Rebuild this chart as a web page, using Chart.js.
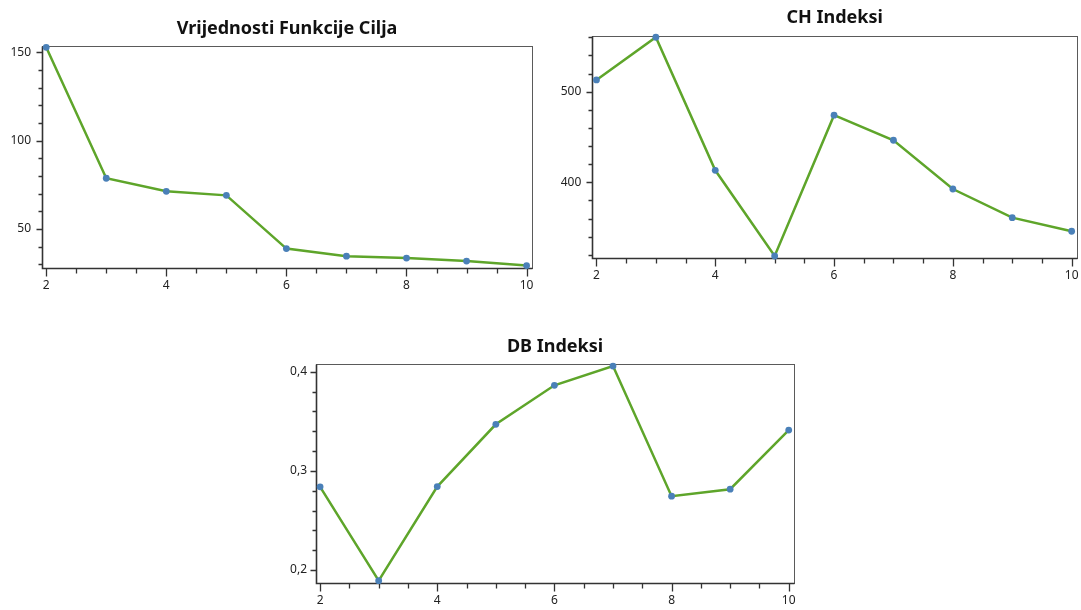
<!DOCTYPE html>
<html>
<head>
<meta charset="utf-8">
<script src="https://cdn.jsdelivr.net/npm/chart.js@4.4.0/dist/chart.umd.min.js"></script>
<style>
  html, body { margin: 0; padding: 0; background: #fff; width: 1081px; height: 610px; overflow: hidden; }
  canvas { position: absolute; }
</style>
</head>
<body>
<canvas id="chart-fc" width="545" height="300" style="left:0px;top:0px"></canvas>
<canvas id="chart-ch" width="531" height="300" style="left:550px;top:0px"></canvas>
<canvas id="chart-db" width="540" height="280" style="left:270px;top:330px"></canvas>
<script>
// broj klastera (k)
var brojKlastera = [2, 3, 4, 5, 6, 7, 8, 9, 10];
var xOznake      = [2, 4, 6, 8, 10];

// vrijednosti ocitane sa slike
var funkcijaCilja = [152.8, 78.7, 71.3, 69.0, 38.9, 34.6, 33.5, 31.8, 29.3];
var chIndeksi     = [512.9, 560.0, 413.2, 318.7, 474.0, 446.4, 392.6, 361.0, 346.0];
var dbIndeksi     = [0.2839, 0.1892, 0.2842, 0.347, 0.3863, 0.4057, 0.2745, 0.2815, 0.3412];

var fcOznake = [50, 100, 150];
var chOznake = [400, 500];
var dbOznake = [0.2, 0.3, 0.4];

var FONT = '"Segoe UI", "Noto Sans", "Open Sans", sans-serif';
var BOJA_LINIJE = '#5ea52a';
var BOJA_TOCKE  = '#4a80b8';

// okvir + male crtice na osima
var okvirPlugin = {
  id: 'okvir',
  beforeDatasetsDraw: function(chart, args, o) {
    var a = chart.chartArea, ctx = chart.ctx;
    var sx = chart.scales.x, sy = chart.scales.y;
    var L = Math.round(a.left) + 0.5, R = Math.round(a.right) + 0.5;
    var T = Math.round(a.top) + 0.5,  B = Math.round(a.bottom) + 0.5;
    ctx.save();
    ctx.lineWidth = 1;
    ctx.strokeStyle = '#5a5a5a';
    ctx.strokeRect(L, T, R - L, B - T);
    ctx.strokeStyle = '#333';
    ctx.lineWidth = 1.6;
    ctx.beginPath();
    ctx.moveTo(L, T); ctx.lineTo(L, B); ctx.lineTo(R, B);
    ctx.stroke();
    ctx.lineWidth = 1.3;
    ctx.beginPath();
    // x crtice svakih 0.5
    for (var i = 0; i <= 16; i++) {
      var v = 2 + i * 0.5;
      var px = Math.round(sx.getPixelForValue(v)) + 0.5;
      var len = (i % 4 === 0) ? 8 : 5;
      ctx.moveTo(px, B); ctx.lineTo(px, B + len);
    }
    // y crtice
    for (var j = 0; j <= o.yBroj; j++) {
      var yv = o.yOd + j * o.yKorak;
      var py = Math.round(sy.getPixelForValue(yv)) + 0.5;
      var veliki = (j % o.yVelikiSvaki === o.yVelikiPomak);
      ctx.moveTo(L, py); ctx.lineTo(L - (veliki ? 6 : 4), py);
    }
    ctx.stroke();
    ctx.restore();
  }
};

function napraviGraf(id, naslov, vrijednosti, yOznake, opt) {
  var ctx = document.getElementById(id);
  return new Chart(ctx, {
    type: 'line',
    data: {
      datasets: [{
        data: brojKlastera.map(function(k, i) { return { x: k, y: vrijednosti[i] }; }),
        borderColor: BOJA_LINIJE,
        borderWidth: 2.5,
        pointBackgroundColor: BOJA_TOCKE,
        pointBorderColor: BOJA_TOCKE,
        pointRadius: 3.4,
        pointBorderWidth: 0,
        tension: 0,
        fill: false,
        clip: false
      }]
    },
    options: {
      responsive: false,
      animation: false,
      events: [],
      layout: { padding: opt.padding },
      plugins: {
        legend: { display: false },
        tooltip: { enabled: false },
        title: {
          display: true,
          text: naslov,
          fullSize: false,
          color: '#111',
          font: { family: FONT, size: 18, weight: 'bold', lineHeight: 1.2 },
          padding: opt.naslovPadding
        },
        okvir: opt.crtice
      },
      scales: {
        x: {
          type: 'linear',
          min: 1.93, max: 10.09,
          grid: { display: false, drawTicks: false },
          border: { display: false },
          afterBuildTicks: function(s) { s.ticks = xOznake.map(function(v) { return { value: v }; }); },
          afterFit: function(s) { s.height = opt.xVisina; s.paddingLeft = 0; s.paddingRight = 0; },
          ticks: {
            color: '#222', padding: 10, maxRotation: 0, autoSkip: false,
            font: { family: FONT, size: 12 }
          }
        },
        y: {
          min: opt.yMin, max: opt.yMax,
          grid: { display: false, drawTicks: false },
          border: { display: false },
          afterBuildTicks: function(s) { s.ticks = yOznake.map(function(v) { return { value: v }; }); },
          afterFit: function(s) { s.width = opt.ySirina; s.paddingTop = 0; s.paddingBottom = 0; },
          ticks: {
            color: '#222', padding: opt.yPad, autoSkip: false,
            font: { family: FONT, size: 12 },
            callback: opt.format || function(v) { return String(v); }
          }
        }
      }
    },
    plugins: [okvirPlugin]
  });
}

napraviGraf('chart-fc', 'Vrijednosti Funkcije Cilja', funkcijaCilja, fcOznake, {
  padding: { left: 0, top: 0, right: 13, bottom: 5 },
  naslovPadding: { top: 18, bottom: 6.1 },
  xVisina: 27, ySirina: 42, yPad: 11,
  yMin: 27.9, yMax: 153.7,
  crtice: { yOd: 30, yKorak: 10, yBroj: 12, yVelikiSvaki: 5, yVelikiPomak: 2 }
});

napraviGraf('chart-ch', 'CH Indeksi', chIndeksi, chOznake, {
  padding: { left: 0, top: 0, right: 3.3, bottom: 15 },
  naslovPadding: { top: 7.5, bottom: 6.6 },
  xVisina: 27, ySirina: 42.3, yPad: 11,
  yMin: 316.5, yMax: 561.7,
  crtice: { yOd: 320, yKorak: 20, yBroj: 12, yVelikiSvaki: 5, yVelikiPomak: 4 }
});

napraviGraf('chart-db', 'DB Indeksi', dbIndeksi, dbOznake, {
  padding: { left: 0, top: 0, right: 16, bottom: 0 },
  naslovPadding: { top: 6.3, bottom: 6.4 },
  xVisina: 26.7, ySirina: 46, yPad: 9,
  yMin: 0.1866, yMax: 0.4075,
  format: function(v) { return v.toFixed(1).replace('.', ','); },
  crtice: { yOd: 0.2, yKorak: 0.02, yBroj: 10, yVelikiSvaki: 5, yVelikiPomak: 0 }
});
</script>
</body>
</html>
